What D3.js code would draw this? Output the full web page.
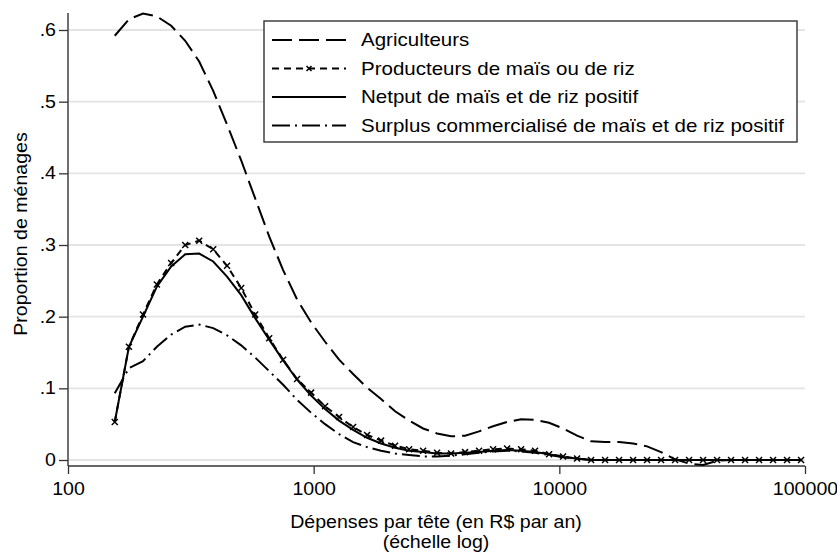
<!DOCTYPE html>
<html>
<head>
<meta charset="utf-8">
<script src="https://cdn.jsdelivr.net/npm/d3@7"></script>
<style>
  body { margin: 0; background: #fff; }
  text { font-family: 'Liberation Sans', Arial, sans-serif; fill: #000; }
</style>
</head>
<body>
<div id="chart"></div>
<script>
const w = 837,
      h = 553,
      stretch = 1.12; // the original text is a little wider than Arial

// evaluation grid (R$ per head per year, log spaced)
const depenses = [155, 177, 202, 230, 263, 300, 342, 390, 444, 507,
  578, 659, 751, 856, 976, 1113, 1269, 1447, 1650, 1881,
  2145, 2446, 2789, 3180, 3625, 4134, 4713, 5374, 6128, 6987,
  7966, 9083, 10357, 11809, 13464, 15352, 17505, 19959, 22757, 25948,
  29586, 33734, 38464, 43857, 50006, 57017, 65011, 74126, 84519, 96369];

const agriculteurs = [0.592, 0.615, 0.623, 0.619, 0.606, 0.585, 0.556, 0.515, 0.468, 0.418,
  0.365, 0.312, 0.265, 0.224, 0.192, 0.165, 0.140, 0.120, 0.101, 0.085,
  0.068, 0.055, 0.044, 0.037, 0.033, 0.034, 0.040, 0.047, 0.053, 0.057,
  0.056, 0.052, 0.044, 0.034, 0.026, 0.025, 0.025, 0.023, 0.019, 0.011,
  0.001, -0.005, -0.007, -0.001, 0, 0, 0, 0, 0, 0];

const producteurs = [0.053, 0.158, 0.203, 0.245, 0.275, 0.300, 0.306, 0.294, 0.271, 0.240,
  0.203, 0.170, 0.140, 0.113, 0.094, 0.075, 0.060, 0.046, 0.035, 0.027,
  0.020, 0.015, 0.013, 0.010, 0.009, 0.011, 0.013, 0.015, 0.016, 0.015,
  0.013, 0.008, 0.005, 0.002, 0, 0, 0, 0, 0, 0,
  0, 0, 0, 0, 0, 0, 0, 0, 0, 0];

const netput = [0.053, 0.158, 0.200, 0.242, 0.270, 0.287, 0.288, 0.277, 0.256, 0.230,
  0.198, 0.168, 0.139, 0.112, 0.090, 0.071, 0.055, 0.042, 0.031, 0.023,
  0.017, 0.013, 0.011, 0.009, 0.009, 0.010, 0.011, 0.013, 0.014, 0.013,
  0.011, 0.008, 0.004, 0.002, 0, 0, 0, 0, 0, 0,
  0, 0, 0, 0, 0, 0, 0, 0, 0, 0];

const surplus = [0.093, 0.128, 0.138, 0.158, 0.175, 0.186, 0.189, 0.184, 0.174, 0.160,
  0.143, 0.124, 0.105, 0.084, 0.066, 0.050, 0.036, 0.025, 0.018, 0.013,
  0.009, 0.007, 0.005, 0.005, 0.006, 0.008, 0.010, 0.012, 0.013, 0.012,
  0.010, 0.007, 0.004, 0.002, 0, 0, 0, 0, 0, 0,
  0, 0, 0, 0, 0, 0, 0, 0, 0, 0];

const seriesNames = ['Agriculteurs', 'Producteurs de maïs ou de riz',
  'Netput de maïs et de riz positif', 'Surplus commercialisé de maïs et de riz positif'];

const xTicks = [100, 1000, 10000, 100000];
const yTicks = [0, 0.1, 0.2, 0.3, 0.4, 0.5, 0.6];

const series = [
  { name: seriesNames[0], values: agriculteurs, dash: '20,7', marker: false },
  { name: seriesNames[1], values: producteurs, dash: '7,5', marker: true },
  { name: seriesNames[2], values: netput, dash: null, marker: false },
  { name: seriesNames[3], values: surplus, dash: '18,5,2,5', marker: false }
];

const svg = d3.select('#chart')
  .append('svg')
  .attr('width', w)
  .attr('height', h);

const xScale = d3.scaleLog()
  .domain([100, 100000])
  .range([68, 805]);

const yScale = d3.scaleLinear()
  .domain([0, 0.6])
  .range([460, 30]);

// gridlines
svg.append('g')
  .selectAll('line')
  .data(yTicks)
  .enter()
  .append('line')
  .attr('x1', 69)
  .attr('x2', 805)
  .attr('y1', d => yScale(d))
  .attr('y2', d => yScale(d))
  .attr('stroke', '#e4e4e4')
  .attr('stroke-width', 1.8);

// y axis
const yAxis = d3.axisLeft(yScale)
  .tickValues(yTicks)
  .tickFormat(d => d === 0 ? '0' : d3.format('.1f')(d).replace(/^0/, ''))
  .tickSize(9);

const gy = svg.append('g')
  .attr('transform', 'translate(68, 0)')
  .call(yAxis);
gy.select('.domain').remove();
gy.selectAll('.tick text')
  .attr('x', -12 / stretch);
gy.append('line')
  .attr('x1', 0).attr('x2', 0)
  .attr('y1', 13).attr('y2', 466)
  .attr('stroke', '#333').attr('stroke-width', 1.4);

// x axis
const xAxis = d3.axisBottom(xScale)
  .tickValues(xTicks)
  .tickFormat(d3.format('d'))
  .tickSize(8)
  .tickPadding(9);

const gx = svg.append('g')
  .attr('transform', 'translate(0, 466)')
  .call(xAxis);
gx.select('.domain').remove();
gx.append('line')
  .attr('x1', 68).attr('x2', 805)
  .attr('y1', 0).attr('y2', 0)
  .attr('stroke', '#333').attr('stroke-width', 1.4);

svg.selectAll('.tick line').attr('stroke', '#333').attr('stroke-width', 1.3);
svg.selectAll('.tick text')
  .attr('transform', `scale(${stretch}, 1)`)
  .style('font-size', '17.5px')
  .style('font-family', "'Liberation Sans', Arial, sans-serif")
  .attr('fill', '#000');

// axis titles
svg.append('text')
  .attr('transform', `translate(27, 234) rotate(-90) scale(${stretch}, 1)`)
  .attr('text-anchor', 'middle')
  .style('font-size', '17.5px')
  .text('Proportion de ménages');

svg.append('text')
  .attr('transform', `translate(436, 528) scale(${stretch}, 1)`)
  .attr('text-anchor', 'middle')
  .style('font-size', '17.5px')
  .text('Dépenses par tête (en R$ par an)');

svg.append('text')
  .attr('transform', `translate(436, 548) scale(${stretch}, 1)`)
  .attr('text-anchor', 'middle')
  .style('font-size', '17.5px')
  .text('(échelle log)');

// lines
const line = d3.line()
  .x((d, i) => xScale(depenses[i]))
  .y(d => yScale(d));

const crossPath = (cx, cy, r) =>
  `M${cx - r},${cy - r}L${cx + r},${cy + r}M${cx - r},${cy + r}L${cx + r},${cy - r}`;

series.forEach(s => {
  svg.append('path')
    .datum(s.values)
    .attr('d', line)
    .attr('fill', 'none')
    .attr('stroke', '#000')
    .attr('stroke-width', 2)
    .attr('stroke-dasharray', s.dash);

  if (s.marker) {
    svg.append('g')
      .selectAll('path')
      .data(s.values)
      .enter()
      .append('path')
      .attr('d', (d, i) => crossPath(xScale(depenses[i]), yScale(d), 3))
      .attr('stroke', '#000')
      .attr('stroke-width', 1.5);
  }
});

// legend
const legendContainer = svg.append('g').attr('id', 'legend');

legendContainer.append('rect')
  .attr('x', 264)
  .attr('y', 21)
  .attr('width', 533)
  .attr('height', 121)
  .attr('fill', '#fff')
  .attr('stroke', '#333')
  .attr('stroke-width', 1.4);

const legend = legendContainer
  .selectAll('.legend-label')
  .data(series)
  .enter()
  .append('g')
  .attr('class', 'legend-label')
  .attr('transform', (d, i) => `translate(0, ${40 + i * 28.5})`);

legend.append('line')
  .attr('x1', 272)
  .attr('x2', 346)
  .attr('y1', 0)
  .attr('y2', 0)
  .attr('stroke', '#000')
  .attr('stroke-width', 2)
  .attr('stroke-dasharray', d => d.dash);

legend.filter(d => d.marker)
  .append('path')
  .attr('d', crossPath(309, 0, 2.5))
  .attr('stroke', '#000')
  .attr('stroke-width', 1.5);

legend.append('text')
  .attr('transform', `translate(361, 0) scale(${stretch + 0.02}, 1)`)
  .attr('dy', '.35em')
  .style('font-size', '18px')
  .text(d => d.name);
</script>
</body>
</html>
